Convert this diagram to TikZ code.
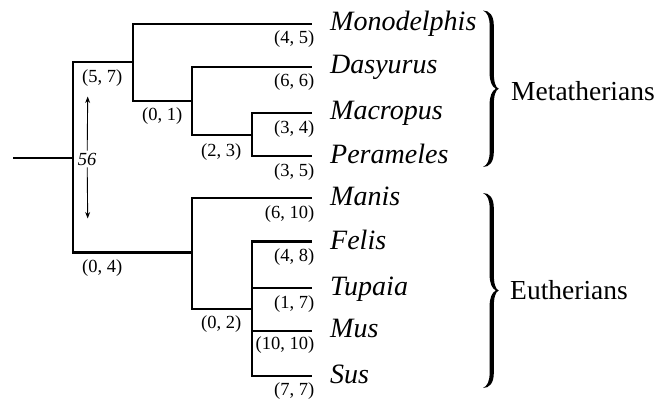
\documentclass[tikz,border=0pt]{standalone}
\usepackage{fontspec}
\setmainfont{Liberation Serif}
\usetikzlibrary{arrows.meta}

% a filled curly bracket between two heights, tip pointing right
\newcommand\cladebrace[2]{%
  \pgfmathsetmacro\bracemid{(#1+#2)/2}%
  \fill (483,#1)
    .. controls (489.5,#1) and (493.8,#1+5) .. (493.8,#1+15)
    -- (493.8,\bracemid-16)
    .. controls (493.8,\bracemid-7) and (495.5,\bracemid-1) .. (498.8,\bracemid)
    .. controls (495.5,\bracemid+1) and (493.8,\bracemid+7) .. (493.8,\bracemid+16)
    -- (493.8,#2-15)
    .. controls (493.8,#2-5) and (489.5,#2) .. (483,#2)
    .. controls (487.5,#2-2) and (489.6,#2-7) .. (489.6,#2-15)
    -- (489.6,\bracemid+16)
    .. controls (489.6,\bracemid+7) and (492,\bracemid+2) .. (495.8,\bracemid)
    .. controls (492,\bracemid-2) and (489.6,\bracemid-7) .. (489.6,\bracemid-16)
    -- (489.6,#1+15)
    .. controls (489.6,#1+7) and (487.5,#1+2) .. (483,#1)
    -- cycle;}

\begin{document}
\begin{tikzpicture}[x=1pt,y=-1pt,
  branch/.style={line width=2.6pt},
  taxon/.style={anchor=base west,inner sep=0pt,font=\fontsize{28}{30}\selectfont\itshape},
  clade/.style={anchor=base west,inner sep=0pt,font=\fontsize{27.5}{30}\selectfont},
  lab/.style={inner sep=0pt,font=\fontsize{18.5}{20}\selectfont},
  tiplab/.style={lab,anchor=base east},
  nodelab/.style={lab,anchor=base west}]
\useasboundingbox (0,0) rectangle (671,401);

% stem and internal nodes
\coordinate (stem) at (13,158);
\coordinate (root) at (73,158);
\coordinate (meta) at (133,62);
\coordinate (ma) at (192,101);
\coordinate (mb) at (252,135);
\coordinate (euth) at (192,252.5);
\coordinate (ea) at (252,309);

% branch tips
\coordinate (tMono) at (312,24);
\coordinate (tDasy) at (312,67);
\coordinate (tMacr) at (312,113);
\coordinate (tPera) at (312,156);
\coordinate (tMani) at (312,198);
\coordinate (tFeli) at (312,241.5);
\coordinate (tTupa) at (312,288);
\coordinate (tMus) at (312,331);
\coordinate (tSus) at (312,376);

% tree
\draw[branch] (stem) -- (root);
\draw[branch] (root) |- (meta);
\draw[branch] (root) |- (euth);
\draw[branch] (meta) |- (tMono);
\draw[branch] (meta) |- (ma);
\draw[branch] (ma) |- (tDasy);
\draw[branch] (ma) |- (mb);
\draw[branch] (mb) |- (tMacr);
\draw[branch] (mb) |- (tPera);
\draw[branch] (euth) |- (tMani);
\draw[branch] (euth) |- (ea);
\draw[branch] (ea) |- (tFeli);
\draw[branch] (ea) |- (tTupa);
\draw[branch] (ea) |- (tMus);
\draw[branch] (ea) |- (tSus);

% taxon names
\path (tMono) ++(18,7) node[taxon] (nMono) {Monodelphis};
\path (tDasy) ++(18,7) node[taxon] (nDasy) {Dasyurus};
\path (tMacr) ++(18,7) node[taxon] (nMacr) {Macropus};
\path (tPera) ++(18,7) node[taxon] (nPera) {Perameles};
\path (tMani) ++(18,7) node[taxon] (nMani) {Manis};
\path (tFeli) ++(18,8) node[taxon] (nFeli) {Felis};
\path (tTupa) ++(18,7) node[taxon] (nTupa) {Tupaia};
\path (tMus) ++(18,6) node[taxon] (nMus) {Mus};
\path (tSus) ++(18,7) node[taxon] (nSus) {Sus};

% branch labels at the tips
\path (tMono) ++(2.5,20) node[tiplab] (lMono) {(4, 5)};
\path (tDasy) ++(2.5,20) node[tiplab] (lDasy) {(6, 6)};
\path (tMacr) ++(2.5,20) node[tiplab] (lMacr) {(3, 4)};
\path (tPera) ++(2.5,20) node[tiplab] (lPera) {(3, 5)};
\path (tMani) ++(2.5,20) node[tiplab] (lMani) {(6, 10)};
\path (tFeli) ++(2.5,20) node[tiplab] (lFeli) {(4, 8)};
\path (tTupa) ++(2.5,20) node[tiplab] (lTupa) {(1, 7)};
\path (tMus) ++(2.5,18) node[tiplab] (lMus) {(10, 10)};
\path (tSus) ++(2.5,19.5) node[tiplab] (lSus) {(7, 7)};

% branch labels on internal branches
\path (root |- meta) ++(9,21) node[nodelab] (lMeta) {(5, 7)};
\path (meta |- ma) ++(9,20) node[nodelab] (lMa) {(0, 1)};
\path (ma |- mb) ++(9,21.5) node[nodelab] (lMb) {(2, 3)};
\path (root |- euth) ++(9,20) node[nodelab] (lEuth) {(0, 4)};
\path (euth |- ea) ++(9,19.5) node[nodelab] (lEa) {(0, 2)};

% distance between the two clades
\coordinate (arrTop) at (87.7,96.5);
\coordinate (arrBot) at (87.7,218.5);
\node[lab,font=\fontsize{18.5}{20}\selectfont\itshape,inner sep=2pt] (dist) at (87.2,159) {56};
\draw[line width=0.9pt,-{Stealth[length=6.5pt,width=5pt]}] (dist.north) -- (arrTop);
\draw[line width=0.9pt,-{Stealth[length=6.5pt,width=5pt]}] (dist.south) -- (arrBot);

% clade brackets and names
\cladebrace{10.5}{167}
\cladebrace{193}{388}
\node[clade] (cMeta) at (511,100) {Metatherians};
\node[clade] (cEuth) at (510,299) {Eutherians};
\end{tikzpicture}
\end{document}
